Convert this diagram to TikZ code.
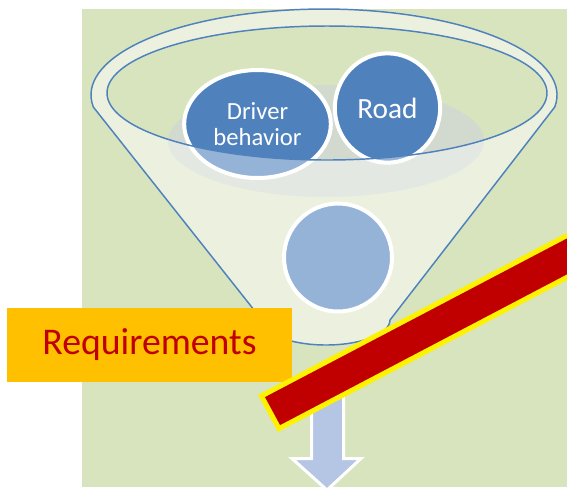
\documentclass[tikz,border=0pt]{standalone}
\usepackage{fontspec}
\setmainfont{Carlito}
\usetikzlibrary{shapes.geometric}
\definecolor{bgreen}{HTML}{D7E4BD}
\definecolor{glassgreen}{HTML}{DEE8C8}
\definecolor{rimblue}{HTML}{4F81BD}
\definecolor{liquidgrey}{HTML}{D2DAD0}
\definecolor{arrowblue}{HTML}{B4C6E4}
\definecolor{reqorange}{HTML}{FFC000}
\definecolor{reqred}{HTML}{C00000}
\tikzset{
  bubble/.style={ellipse, draw=white, line width=3pt, fill=rimblue, inner sep=0pt, text=white, align=center},
  rimline/.style={rimblue, line width=1.1pt, line join=round},
}

\begin{document}
\begin{tikzpicture}[x=0.75pt,y=0.75pt,yscale=-1,xscale=1]
\useasboundingbox (0,0) rectangle (567,487);
\clip (0,0) rectangle (567,487);

% Background
\fill[white] (0,0) rectangle (567,487);
\fill[bgreen] (82,9) rectangle (567,487);

% Shape: Funnel body
\fill[glassgreen] (93.3,107) arc [start angle=172, end angle=368, x radius=233, y radius=86] -- (390,320) arc [start angle=0, end angle=180, x radius=64, y radius=25] -- cycle;
% Shape: Ellipse
\fill[bgreen] (327,93) ellipse [x radius=220, y radius=67];
% Shape: Ellipse
\fill[liquidgrey] (326,141) ellipse [x radius=158, y radius=56];

% Text Node
\node[bubble, minimum width=110pt, minimum height=81pt, font=\fontsize{18.5}{19}\selectfont] (driver) at (257.5,124) {Driver\\behavior};
% Text Node
\node[bubble, minimum width=79pt, minimum height=82pt, font=\fontsize{22}{24}\selectfont] (road) at (387.5,108) {Road};
% Shape: Circle
\node[bubble, minimum width=81pt, minimum height=81pt] (blank) at (338,257.5) {};

% Shape: Funnel front glass
\fill[white, opacity=0.4, even odd rule] (93.3,107) arc [start angle=172, end angle=368, x radius=233, y radius=86] -- (390,320) arc [start angle=0, end angle=180, x radius=64, y radius=25] -- cycle (327,93) ellipse [x radius=220, y radius=67];

% Shape: Funnel outline
\draw[rimline] (327,93) ellipse [x radius=220, y radius=67];
\draw[rimline] (93.3,107) arc [start angle=172, end angle=368, x radius=233, y radius=86] -- (390,320) arc [start angle=0, end angle=180, x radius=64, y radius=25] -- cycle;

% Shape: Down Arrow
\draw[white, line width=2.25pt, fill=arrowblue, line join=miter] (311.5,378) -- (343.5,378) -- (343.5,458.5) -- (361,458.5) -- (327,490) -- (292,458.5) -- (311.5,458.5) -- cycle;

% Text Node
\node[fill=reqorange, minimum width=213.75pt, minimum height=55.5pt, inner sep=0pt, text=reqred, font=\fontsize{28.3}{33}\selectfont] (req) at (149.5,345) {Requirements};

% Shape: Bar
\draw[yellow, line width=3.75pt, fill=reqred, line join=miter] (261.4,396) -- (279,428.6) -- (633,242.6) -- (615.4,210) -- cycle;

\end{tikzpicture}
\end{document}
